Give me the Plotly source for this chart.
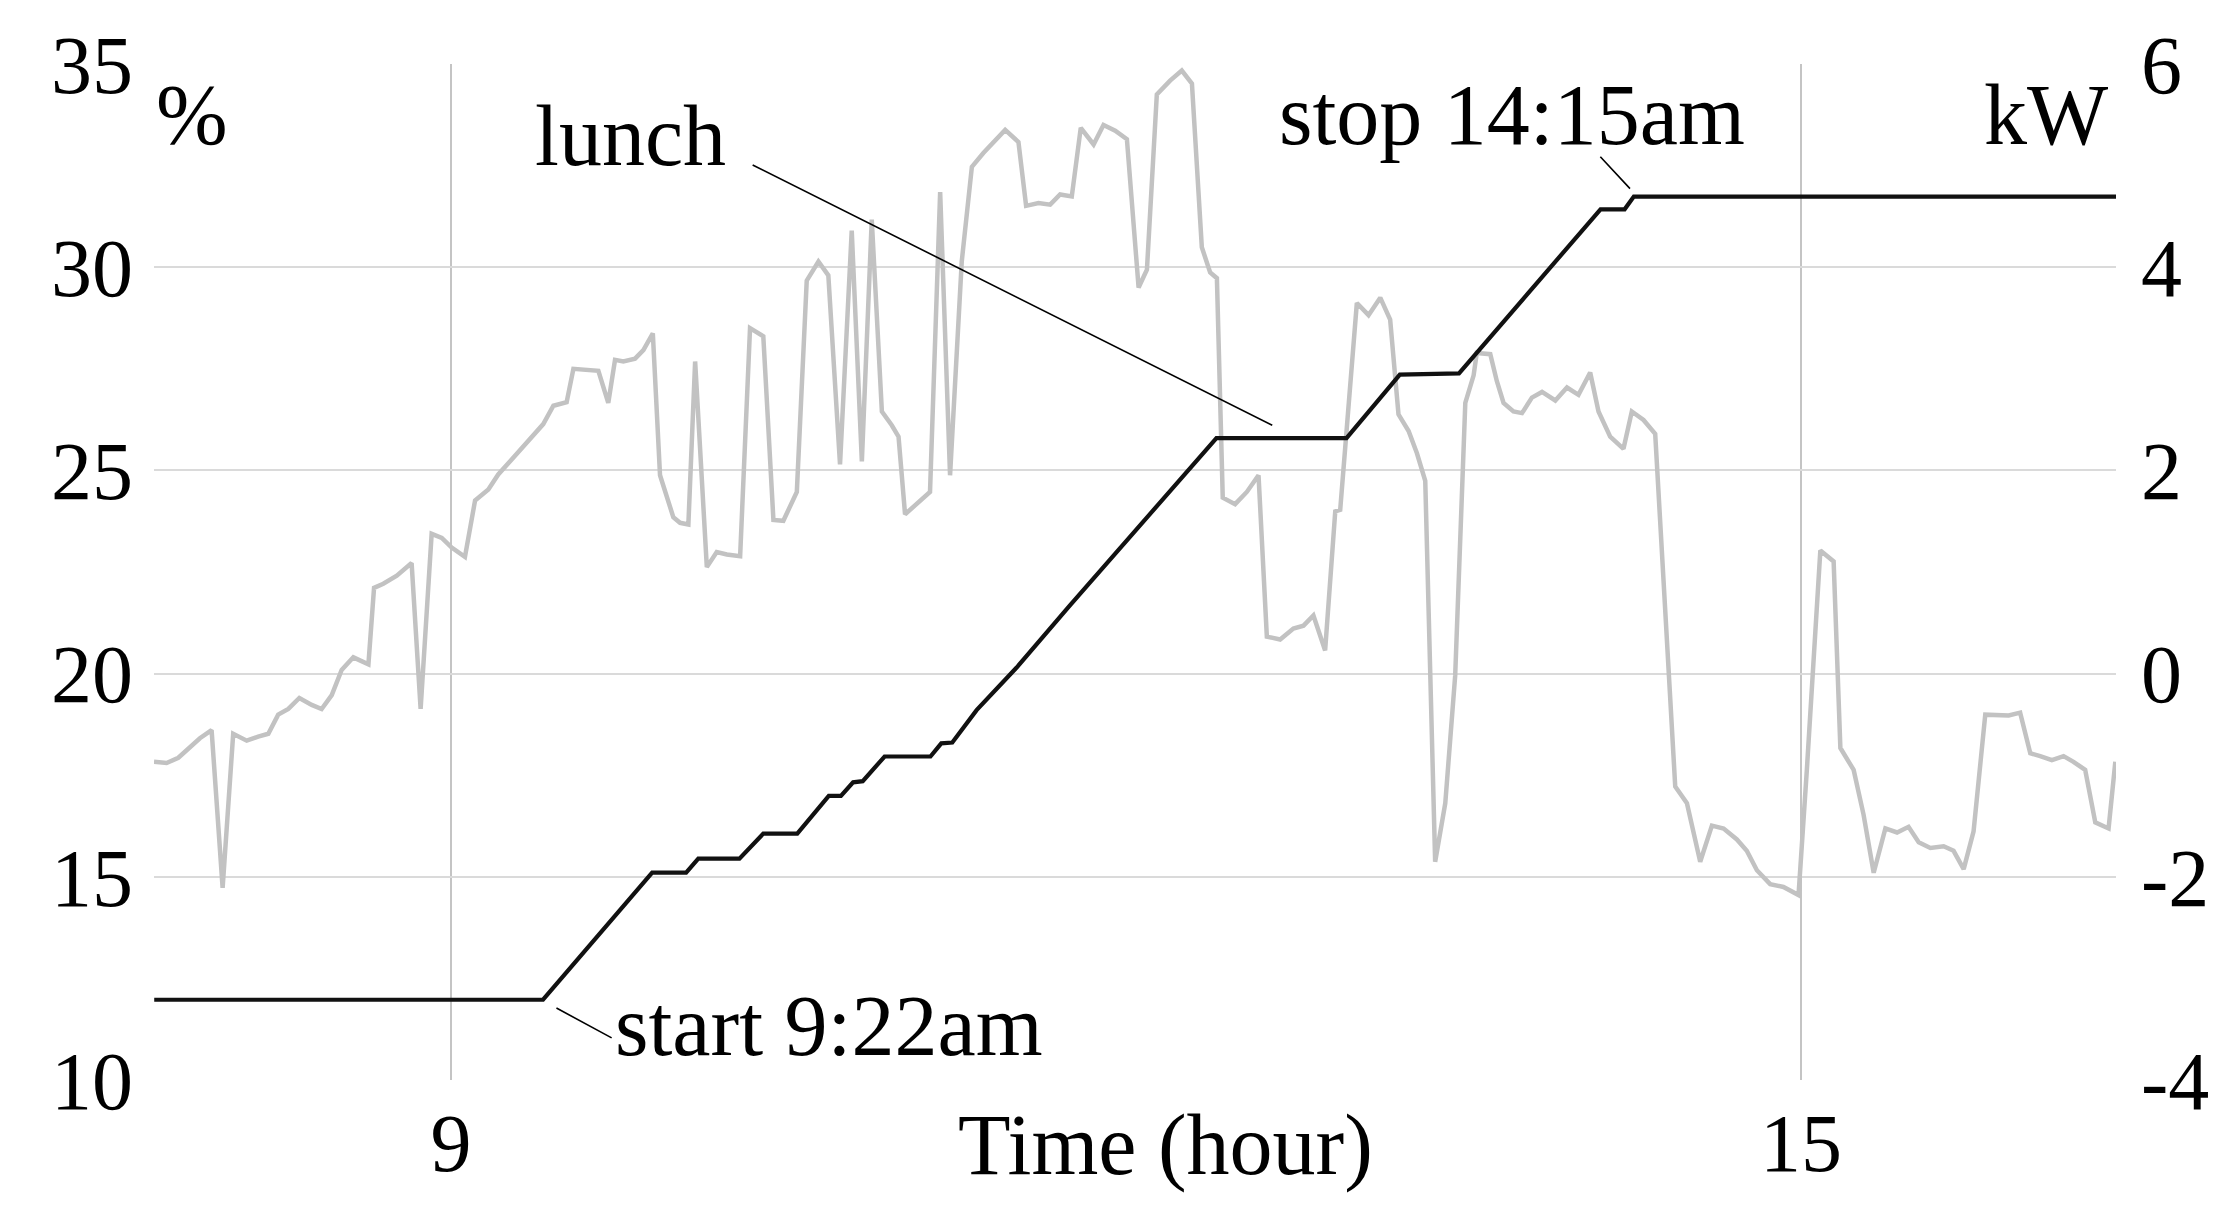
import plotly.graph_objects as go

# ---------------- data ----------------
# grey series (%), left axis
pct_time = [7.680, 7.736, 7.788, 7.840, 7.884, 7.936, 7.985, 8.032, 8.092, 8.143,
            8.188, 8.232, 8.277, 8.326, 8.381, 8.425, 8.470, 8.514, 8.566, 8.633,
            8.658, 8.699, 8.759, 8.825, 8.865, 8.914, 8.959, 9.003, 9.062, 9.107,
            9.166, 9.210, 9.262, 9.314, 9.366, 9.410, 9.455, 9.514, 9.544, 9.603,
            9.655, 9.699, 9.729, 9.766, 9.818, 9.855, 9.897, 9.929, 9.988, 10.018,
            10.055, 10.085, 10.137, 10.181, 10.226, 10.285, 10.329, 10.388, 10.433, 10.477,
            10.537, 10.581, 10.633, 10.677, 10.729, 10.781, 10.826, 10.870, 10.915, 10.959,
            10.989, 11.018, 11.070, 11.129, 11.174, 11.218, 11.270, 11.315, 11.366, 11.411,
            11.463, 11.522, 11.556, 11.611, 11.663, 11.707, 11.759, 11.799, 11.856, 11.900,
            11.952, 12.004, 12.056, 12.093, 12.137, 12.196, 12.248, 12.293, 12.337, 12.374,
            12.404, 12.430, 12.485, 12.537, 12.589, 12.626, 12.685, 12.744, 12.789, 12.833,
            12.885, 12.930, 12.952, 13.026, 13.078, 13.130, 13.174, 13.211, 13.256, 13.293,
            13.330, 13.374, 13.419, 13.463, 13.508, 13.545, 13.559, 13.619, 13.648, 13.678,
            13.722, 13.760, 13.804, 13.849, 13.908, 13.960, 14.011, 14.063, 14.100, 14.152,
            14.211, 14.248, 14.300, 14.352, 14.441, 14.493, 14.552, 14.604, 14.656, 14.715,
            14.759, 14.804, 14.863, 14.922, 14.989, 15.026, 15.086, 15.145, 15.175, 15.234,
            15.278, 15.323, 15.375, 15.427, 15.478, 15.523, 15.575, 15.634, 15.678, 15.723,
            15.767, 15.819, 15.871, 15.923, 15.974, 16.019, 16.063, 16.115, 16.167, 16.211,
            16.263, 16.308, 16.367, 16.397]
pct_values = [17.83, 17.80, 17.93, 18.20, 18.41, 18.61, 14.73, 18.52, 18.35, 18.45,
              18.52, 18.99, 19.13, 19.40, 19.23, 19.13, 19.47, 20.09, 20.40, 20.23,
              22.11, 22.21, 22.41, 22.72, 19.13, 23.44, 23.34, 23.10, 22.87, 24.26,
              24.53, 24.90, 25.22, 25.53, 25.83, 26.14, 26.59, 26.68, 27.50, 27.48,
              27.45, 26.66, 27.72, 27.68, 27.75, 27.96, 28.37, 24.88, 23.85, 23.71,
              23.67, 27.68, 22.62, 22.99, 22.93, 22.89, 28.50, 28.30, 23.78, 23.76,
              24.47, 29.67, 30.14, 29.80, 25.15, 30.90, 25.22, 31.17, 26.45, 26.11,
              25.83, 23.92, 24.19, 24.47, 31.85, 24.88, 30.14, 32.47, 32.81, 33.08,
              33.38, 33.08, 31.51, 31.58, 31.54, 31.79, 31.74, 33.43, 33.02, 33.50,
              33.36, 33.15, 29.50, 29.94, 34.25, 34.59, 34.84, 34.52, 30.49, 29.87,
              29.73, 24.33, 24.17, 24.47, 24.88, 20.91, 20.84, 21.11, 21.18, 21.43,
              20.57, 23.99, 24.03, 29.12, 28.82, 29.25, 28.71, 26.38, 25.97, 25.42,
              24.74, 15.37, 16.81, 19.95, 26.66, 27.34, 27.89, 27.86, 27.20, 26.66,
              26.45, 26.41, 26.79, 26.93, 26.72, 27.04, 26.86, 27.41, 26.45, 25.83,
              25.53, 26.45, 26.24, 25.90, 17.22, 16.81, 15.37, 16.26, 16.19, 15.92,
              15.64, 15.16, 14.82, 14.75, 14.55, 17.63, 23.03, 22.76, 18.17, 17.63,
              16.53, 15.10, 16.19, 16.09, 16.23, 15.85, 15.71, 15.75, 15.64, 15.19,
              16.12, 18.99, 18.99, 18.97, 19.04, 18.04, 17.97, 17.87, 17.97, 17.83,
              17.63, 16.34, 16.19, 17.83]

# black series (kW), right axis
kw_time = [7.681, 9.409, 9.894, 10.045, 10.099, 10.282, 10.388, 10.539, 10.679, 10.733,
           10.787, 10.830, 10.927, 11.131, 11.179, 11.228, 11.336, 11.514, 11.746, 12.057,
           12.402, 12.980, 13.217, 13.480, 14.109, 14.216, 14.257, 16.400]
kw_values = [-3.21, -3.21, -1.958, -1.958, -1.822, -1.822, -1.575, -1.575, -1.204, -1.204,
             -1.070, -1.059, -0.816, -0.816, -0.686, -0.679, -0.36, 0.06, 0.66, 1.44,
             2.317, 2.317, 2.943, 2.955, 4.570, 4.570, 4.695, 4.695]

x_ticks = [9, 15]
x_tick_labels = ["9", "15"]
left_ticks = [10, 15, 20, 25, 30, 35]
left_tick_labels = ["10", "15", "20", "25", "30", "35"]
right_ticks = [-4, -2, 0, 2, 4, 6]
right_tick_labels = ["-4", "-2", "0", "2", "4", "6"]

# annotation labels: (text, x, y on kW axis)
label_texts = ["lunch", "stop 14:15am", "start 9:22am"]
label_x = [9.365, 12.672, 9.720]
label_y = [5.287, 5.502, -3.473]
# leader lines: tail (x, y) -> head (x, y)
leader_tail_x = [10.334, 14.102, 9.462]
leader_tail_y = [5.014, 5.102, -3.284]
leader_head_x = [12.650, 14.240, 9.714]
leader_head_y = [2.445, 4.773, -3.585]

FONT = "Liberation Serif"
FS = 86
TFS = 82

fig = go.Figure()
fig.add_trace(go.Scatter(x=pct_time, y=pct_values, mode="lines",
                         line=dict(color="#c2c2c2", width=4.5), yaxis="y",
                         showlegend=False, hoverinfo="skip"))
fig.add_trace(go.Scatter(x=kw_time, y=kw_values, mode="lines",
                         line=dict(color="#111111", width=4.2), yaxis="y2",
                         showlegend=False, hoverinfo="skip"))

annotations = []
for t, x, y in zip(label_texts, label_x, label_y):
    annotations.append(dict(text=t, x=x, y=y, xref="x", yref="y2",
                            xanchor="left", yanchor="middle", showarrow=False,
                            font=dict(family=FONT, size=FS, color="black")))
for tx, ty, hx, hy in zip(leader_tail_x, leader_tail_y, leader_head_x, leader_head_y):
    annotations.append(dict(text="", x=hx, y=hy, xref="x", yref="y2",
                            ax=tx, ay=ty, axref="x", ayref="y2",
                            showarrow=True, arrowhead=0, arrowwidth=1.6,
                            arrowcolor="black", standoff=0, startstandoff=0))
annotations.append(dict(text="%", x=0.0, y=0.950, xref="paper", yref="paper",
                        xanchor="left", yanchor="middle", showarrow=False,
                        font=dict(family=FONT, size=FS, color="black")))
annotations.append(dict(text="kW", x=0.9969, y=0.950, xref="paper", yref="paper",
                        xanchor="right", yanchor="middle", showarrow=False,
                        font=dict(family=FONT, size=FS, color="black")))
annotations.append(dict(text="Time (hour)", x=0.5153, y=-0.0635, xref="paper", yref="paper",
                        xanchor="center", yanchor="middle", showarrow=False,
                        font=dict(family=FONT, size=FS, color="black")))

# page body has an 8px default margin; shift the figure so the plot area
# lands at the same pixel position as in the reference
fig.update_layout(
    width=2229, height=1200,
    margin=dict(l=146, r=121, t=49, b=128, pad=0),
    paper_bgcolor="white", plot_bgcolor="white",
    font=dict(family=FONT, size=TFS, color="black"),
    xaxis=dict(range=[7.68, 16.40], tickvals=x_ticks, ticktext=x_tick_labels,
               showgrid=True, gridcolor="#c4c4c4", gridwidth=2,
               zeroline=False, showline=False, ticks="",
               ticklabelstandoff=8,
               tickfont=dict(family=FONT, size=TFS, color="black")),
    yaxis=dict(range=[10, 35], tickvals=left_ticks, ticktext=left_tick_labels,
               showgrid=True, gridcolor="#dadada", gridwidth=2,
               zeroline=False, showline=False, ticks="",
               ticklabelstandoff=20,
               tickfont=dict(family=FONT, size=TFS, color="black")),
    yaxis2=dict(range=[-4, 6], tickvals=right_ticks, ticktext=right_tick_labels,
                overlaying="y", side="right",
                showgrid=False, zeroline=False, showline=False, ticks="",
                ticklabelstandoff=24,
                tickfont=dict(family=FONT, size=TFS, color="black")),
    annotations=annotations,
)

fig.write_html("out.html")
